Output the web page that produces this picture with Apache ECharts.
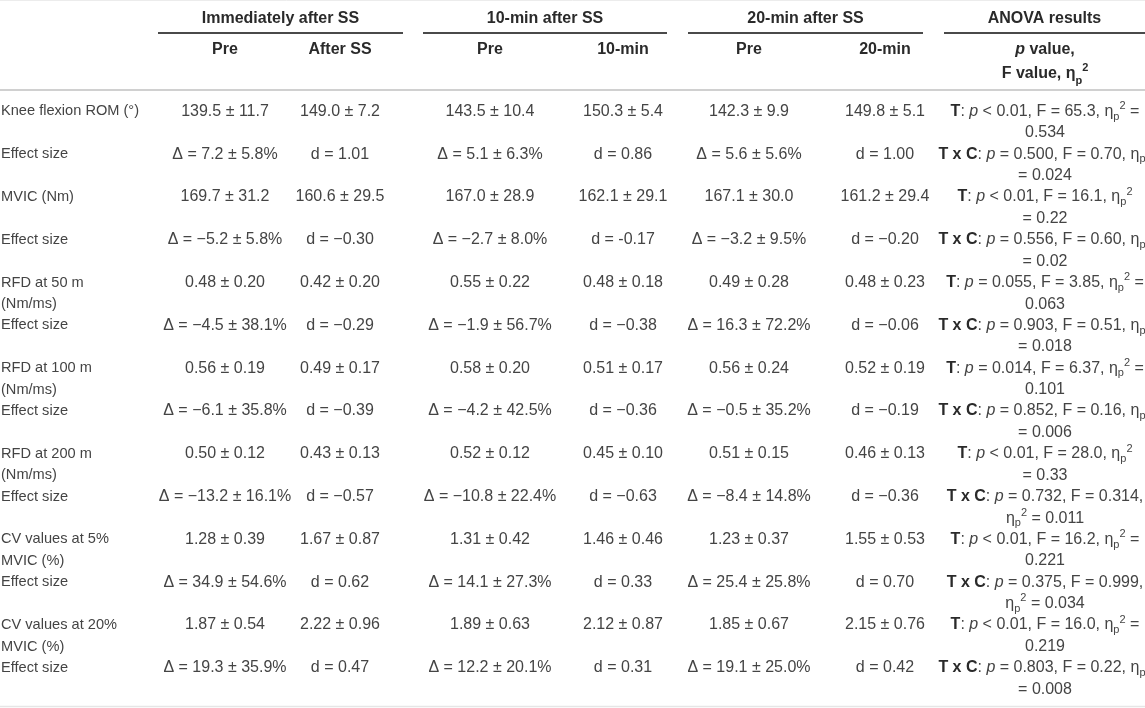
<!DOCTYPE html>
<html>
<head>
<meta charset="utf-8">
<script src="https://cdn.jsdelivr.net/npm/echarts@6.0.0/dist/echarts.min.js"></script>
<style>
html,body{margin:0;padding:0;background:#fff;}
#chart{width:1145px;height:708px;}
</style>
</head>
<body>
<div id="chart"></div>
<script>
// ---------------- DATA ----------------
const groupHeaders = ['Immediately after SS', '10-min after SS', '20-min after SS', 'ANOVA results'];
const subHeaders = ['Pre', 'After SS', 'Pre', '10-min', 'Pre', '20-min'];
const anovaHeader = ['p value,', 'F value, ηp²'];

const rowLabels = [
  'Knee flexion ROM (°)', 'Effect size',
  'MVIC (Nm)', 'Effect size',
  'RFD at 50 m\n(Nm/ms)', 'Effect size',
  'RFD at 100 m\n(Nm/ms)', 'Effect size',
  'RFD at 200 m\n(Nm/ms)', 'Effect size',
  'CV values at 5%\nMVIC (%)', 'Effect size',
  'CV values at 20%\nMVIC (%)', 'Effect size'
];

const immPre = ['139.5 ± 11.7', 'Δ = 7.2 ± 5.8%', '169.7 ± 31.2', 'Δ = −5.2 ± 5.8%', '0.48 ± 0.20', 'Δ = −4.5 ± 38.1%', '0.56 ± 0.19', 'Δ = −6.1 ± 35.8%', '0.50 ± 0.12', 'Δ = −13.2 ± 16.1%', '1.28 ± 0.39', 'Δ = 34.9 ± 54.6%', '1.87 ± 0.54', 'Δ = 19.3 ± 35.9%'];
const immAfter = ['149.0 ± 7.2', 'd = 1.01', '160.6 ± 29.5', 'd = −0.30', '0.42 ± 0.20', 'd = −0.29', '0.49 ± 0.17', 'd = −0.39', '0.43 ± 0.13', 'd = −0.57', '1.67 ± 0.87', 'd = 0.62', '2.22 ± 0.96', 'd = 0.47'];
const tenPre = ['143.5 ± 10.4', 'Δ = 5.1 ± 6.3%', '167.0 ± 28.9', 'Δ = −2.7 ± 8.0%', '0.55 ± 0.22', 'Δ = −1.9 ± 56.7%', '0.58 ± 0.20', 'Δ = −4.2 ± 42.5%', '0.52 ± 0.12', 'Δ = −10.8 ± 22.4%', '1.31 ± 0.42', 'Δ = 14.1 ± 27.3%', '1.89 ± 0.63', 'Δ = 12.2 ± 20.1%'];
const tenPost = ['150.3 ± 5.4', 'd = 0.86', '162.1 ± 29.1', 'd = -0.17', '0.48 ± 0.18', 'd = −0.38', '0.51 ± 0.17', 'd = −0.36', '0.45 ± 0.10', 'd = −0.63', '1.46 ± 0.46', 'd = 0.33', '2.12 ± 0.87', 'd = 0.31'];
const twentyPre = ['142.3 ± 9.9', 'Δ = 5.6 ± 5.6%', '167.1 ± 30.0', 'Δ = −3.2 ± 9.5%', '0.49 ± 0.28', 'Δ = 16.3 ± 72.2%', '0.56 ± 0.24', 'Δ = −0.5 ± 35.2%', '0.51 ± 0.15', 'Δ = −8.4 ± 14.8%', '1.23 ± 0.37', 'Δ = 25.4 ± 25.8%', '1.85 ± 0.67', 'Δ = 19.1 ± 25.0%'];
const twentyPost = ['149.8 ± 5.1', 'd = 1.00', '161.2 ± 29.4', 'd = −0.20', '0.48 ± 0.23', 'd = −0.06', '0.52 ± 0.19', 'd = −0.19', '0.46 ± 0.13', 'd = −0.36', '1.55 ± 0.53', 'd = 0.70', '2.15 ± 0.76', 'd = 0.42'];

const anovaResults = [
  ['T: p < 0.01, F = 65.3, ηp² =', '0.534'],
  ['T x C: p = 0.500, F = 0.70, ηp²', '= 0.024'],
  ['T: p < 0.01, F = 16.1, ηp²', '= 0.22'],
  ['T x C: p = 0.556, F = 0.60, ηp²', '= 0.02'],
  ['T: p = 0.055, F = 3.85, ηp² =', '0.063'],
  ['T x C: p = 0.903, F = 0.51, ηp²', '= 0.018'],
  ['T: p = 0.014, F = 6.37, ηp² =', '0.101'],
  ['T x C: p = 0.852, F = 0.16, ηp²', '= 0.006'],
  ['T: p < 0.01, F = 28.0, ηp²', '= 0.33'],
  ['T x C: p = 0.732, F = 0.314,', 'ηp² = 0.011'],
  ['T: p < 0.01, F = 16.2, ηp² =', '0.221'],
  ['T x C: p = 0.375, F = 0.999,', 'ηp² = 0.034'],
  ['T: p < 0.01, F = 16.0, ηp² =', '0.219'],
  ['T x C: p = 0.803, F = 0.22, ηp²', '= 0.008']
];

const valueColumns = [immPre, immAfter, tenPre, tenPost, twentyPre, twentyPost];

// ---------------- LAYOUT / STYLE ----------------
const W = 1145, H = 708;
const colX = [225, 340, 490, 623, 749, 885];
const labelX = 1;
const anovaX = 1045;
const groupSpans = [[158, 403], [423, 667], [688, 923], [944, 1145]];
const headY = { group: 19, rule: 33, sub: 50, sep: 90 };
const bodyTop = 90, rowPitch = 42.8;
const LH = 21.5;
const FONT = "'Liberation Sans', Arial, Helvetica, sans-serif";
const TXT = '#444444', BOLD = '#2a2a2a';

const baseRich = {
  b: { fontSize: 16, fontFamily: FONT, fontWeight: 'bold', fill: BOLD, lineHeight: LH },
  i: { fontSize: 16, fontFamily: FONT, fontStyle: 'italic', fill: TXT, lineHeight: LH },
  sub: { fontSize: 11, fontFamily: FONT, fill: TXT, verticalAlign: 'bottom', lineHeight: 16 },
  sup: { fontSize: 11, fontFamily: FONT, fill: TXT, verticalAlign: 'top', lineHeight: 14 },
  bi: { fontSize: 16, fontFamily: FONT, fontWeight: 'bold', fontStyle: 'italic', fill: BOLD, lineHeight: 24 },
  bsub: { fontSize: 11, fontFamily: FONT, fontWeight: 'bold', fill: BOLD, verticalAlign: 'bottom', lineHeight: 18 },
  bsup: { fontSize: 11, fontFamily: FONT, fontWeight: 'bold', fill: BOLD, verticalAlign: 'top', lineHeight: 15 }
};

function anovaRich(s) {
  return s.replace(/^(T x C|T):/, '{b|$1}:')
          .replace(/: p /, ': {i|p} ')
          .replace(/ηp²/g, 'η{sub|p}{sup|2}');
}
function headerRich(s) {
  return s.replace(/^p /, '{bi|p} ').replace(/ηp²/g, 'η{bsub|p}{bsup|2}');
}

// ---------------- SERIES ----------------
const series = [];

// body cells (grid 1, category rows)
function bodySeries(values, x, align, size, fmt) {
  series.push({
    type: 'custom',
    xAxisIndex: 1, yAxisIndex: 1,
    silent: true,
    encode: { x: 0, y: 1 },
    data: values.map((_, i) => [x, i]),
    renderItem: function (params, api) {
      const p = api.coord([api.value(0), api.value(1)]);
      const t = values[params.dataIndex];
      return {
        type: 'text',
        style: {
          text: fmt ? fmt(t) : t,
          x: p[0], y: p[1] - LH / 2,
          align: align, verticalAlign: 'top',
          fontSize: size, fontFamily: FONT, fill: TXT,
          lineHeight: LH,
          rich: baseRich
        }
      };
    }
  });
}
bodySeries(rowLabels, labelX, 'left', 14.6);
valueColumns.forEach((col, c) => bodySeries(col, colX[c], 'center', 16));
bodySeries(anovaResults, anovaX, 'center', 16, a => a.map(anovaRich).join('\n'));

// header texts (grid 0)
const headerItems = [];
groupHeaders.forEach((t, g) => headerItems.push({ value: [(groupSpans[g][0] + groupSpans[g][1]) / 2, headY.group], text: t, lh: 20 }));
subHeaders.forEach((t, c) => headerItems.push({ value: [colX[c], headY.sub], text: t, lh: 20 }));
headerItems.push({ value: [anovaX, headY.sub], text: anovaHeader.map(headerRich).join('\n'), lh: 24 });

series.push({
  type: 'custom',
  xAxisIndex: 0, yAxisIndex: 0,
  silent: true,
  encode: { x: 0, y: 1 },
  data: headerItems.map(d => d.value),
  renderItem: function (params, api) {
    const d = headerItems[params.dataIndex];
    const p = api.coord([api.value(0), api.value(1)]);
    return {
      type: 'text',
      style: {
        text: d.text,
        x: p[0], y: p[1] - d.lh / 2,
        align: 'center', verticalAlign: 'top',
        fontSize: 16, fontFamily: FONT, fontWeight: 'bold', fill: BOLD,
        lineHeight: d.lh,
        rich: baseRich
      }
    };
  }
});

// rules
const rules = [];
groupSpans.forEach(s => rules.push({ value: [s[0], s[1], headY.rule], color: '#4a4a4a', w: 2 }));
rules.push({ value: [0, W, headY.sep], color: '#d0d0d0', w: 2 });
rules.push({ value: [0, W, 0.5], color: '#ececec', w: 1 });
rules.push({ value: [0, W, H - 1.5], color: '#e6e6e6', w: 1.5 });

series.push({
  type: 'custom',
  xAxisIndex: 0, yAxisIndex: 0,
  silent: true,
  encode: { x: [0, 1], y: 2 },
  data: rules.map(r => r.value),
  renderItem: function (params, api) {
    const r = rules[params.dataIndex];
    const a = api.coord([api.value(0), api.value(2)]);
    const b = api.coord([api.value(1), api.value(2)]);
    return {
      type: 'line',
      shape: { x1: a[0], y1: a[1], x2: b[0], y2: b[1] },
      style: { stroke: r.color, lineWidth: r.w }
    };
  }
});

// ---------------- CHART ----------------
const chart = echarts.init(document.getElementById('chart'), null, { renderer: 'canvas' });
chart.setOption({
  animation: false,
  backgroundColor: '#ffffff',
  grid: [
    { left: 0, right: 0, top: 0, bottom: 0 },
    { left: 0, right: 0, top: bodyTop, height: rowPitch * rowLabels.length }
  ],
  xAxis: [
    { type: 'value', min: 0, max: W, show: false, gridIndex: 0 },
    { type: 'value', min: 0, max: W, show: false, gridIndex: 1 }
  ],
  yAxis: [
    { type: 'value', min: 0, max: H, inverse: true, show: false, gridIndex: 0 },
    { type: 'category', data: rowLabels.map((_, i) => String(i)), inverse: true, boundaryGap: true, show: false, gridIndex: 1 }
  ],
  series: series
});
</script>
</body>
</html>
